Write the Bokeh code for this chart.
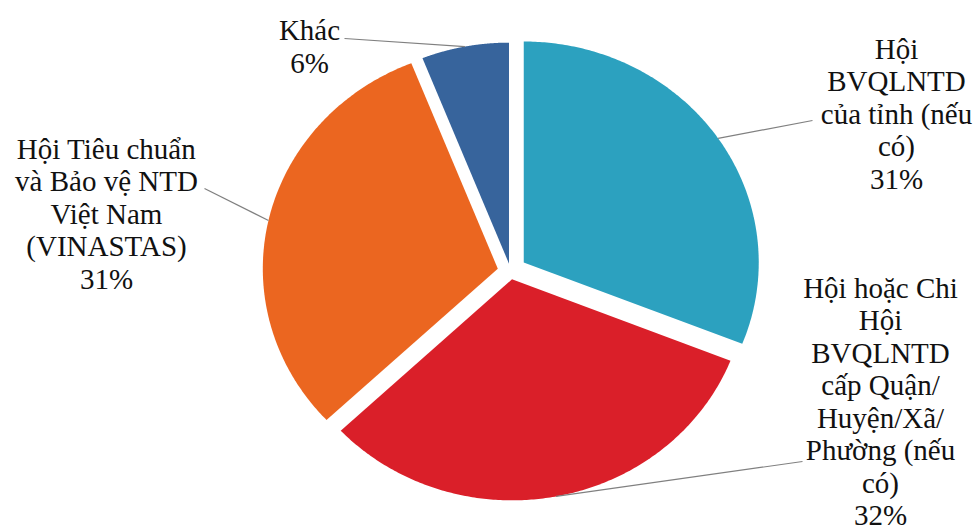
import numpy as np
from bokeh.plotting import figure
from bokeh.models import Range1d, ColumnDataSource
from bokeh.core.properties import value
from bokeh.embed import file_html
from bokeh.resources import INLINE

# ---- data ----
categories = [
    ["Hội", "BVQLNTD", "của tỉnh (nếu", "có)"],
    ["Hội hoặc Chi", "Hội", "BVQLNTD", "cấp Quận/", "Huyện/Xã/", "Phường (nếu", "có)"],
    ["Hội Tiêu chuẩn", "và Bảo vệ NTD", "Việt Nam", "(VINASTAS)"],
    ["Khác"],
]
shares = [31, 32, 31, 6]

# ---- styling / layout ----
colors = ["#2CA1BF", "#DA1F29", "#EB6620", "#37649C"]
explode = [16, 8, 13, 8]
cx, cy = 510.0, 271.0
rx, ry = 235.0, 221.0
label_pos = [(896, 113), (880, 401), (106, 213), (309, 46)]
leader_end = [(812, 120), (802, 461), (204, 188), (344, 38)]
line_gap = 32.5

W, H = 980, 530
p = figure(width=W, height=H, x_range=Range1d(0, W), y_range=Range1d(H, 0),
           output_backend="svg", toolbar_location=None, min_border=0)
p.axis.visible = False
p.grid.visible = False
p.outline_line_color = None
p.background_fill_color = "white"
p.border_fill_color = "white"

total = float(sum(shares))
fr = np.cumsum([0] + shares) / total
xs, ys, lx0, ly0 = [], [], [], []
for i, s in enumerate(shares):
    t0, t1 = 2 * np.pi * fr[i], 2 * np.pi * fr[i + 1]
    tm = 0.5 * (t0 + t1)
    ax = cx + explode[i] * np.sin(tm)
    ay = cy - explode[i] * np.cos(tm)
    t = np.linspace(t0, t1, 200)
    xs.append(list(np.concatenate([[ax], ax + rx * np.sin(t)])))
    ys.append(list(np.concatenate([[ay], ay - ry * np.cos(t)])))
    lx0.append(ax + rx * np.sin(tm))
    ly0.append(ay - ry * np.cos(tm))

p.patches(xs, ys, fill_color=colors, line_color=None)

p.segment(x0=lx0, y0=ly0, x1=[e[0] for e in leader_end], y1=[e[1] for e in leader_end],
          line_color="#808080", line_width=1.2)

tx, ty, tt = [], [], []
for lines, s, (px, py) in zip(categories, shares, label_pos):
    all_lines = lines + [f"{s}%"]
    n = len(all_lines)
    for k, ln in enumerate(all_lines):
        tx.append(px)
        ty.append(py + (k - (n - 1) / 2) * line_gap)
        tt.append(ln)
src = ColumnDataSource(dict(x=tx, y=ty, text=tt))
p.text(x="x", y="y", text="text", source=src, text_align="center", text_baseline="middle",
       text_font=value("Liberation Serif"), text_font_size="29px", text_color="#111111")

open("out.html", "w").write(file_html(p, INLINE))
